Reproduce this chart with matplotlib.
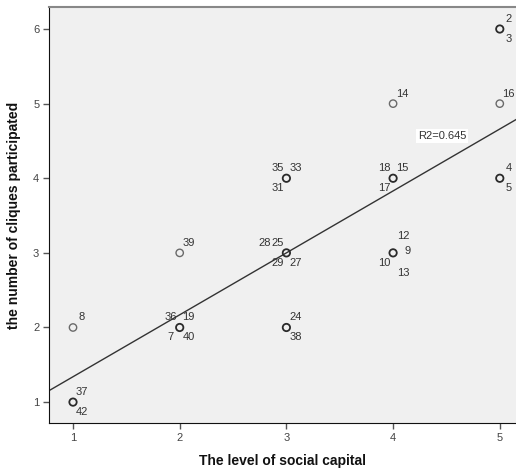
import matplotlib
matplotlib.use("Agg")
import matplotlib.pyplot as plt
import numpy as np
from collections import Counter

# ---- data ----
case_ids = [2, 3, 16, 4, 5, 14, 18, 15, 17, 12, 9, 10, 13,
            35, 33, 31, 28, 25, 29, 27, 24, 38, 39, 36, 19, 7, 40, 8, 37, 42]
social_capital = [5, 5, 5, 5, 5, 4, 4, 4, 4, 4, 4, 4, 4,
                  3, 3, 3, 3, 3, 3, 3, 3, 3, 2, 2, 2, 2, 2, 1, 1, 1]
cliques = [6, 6, 5, 4, 4, 5, 4, 4, 4, 3, 3, 3, 3,
           4, 4, 4, 3, 3, 3, 3, 2, 2, 3, 2, 2, 2, 2, 2, 1, 1]
fit_intercept = 0.51
fit_slope = 0.83
r2_text = "R2=0.645"
x_ticks = [1, 2, 3, 4, 5]
y_ticks = [1, 2, 3, 4, 5, 6]

# label placement slot per case (style)
label_slot = {2: 'tr', 3: 'br', 16: 'tr', 4: 'tr', 5: 'br', 14: 'tr',
              18: 'tl', 15: 'tr', 17: 'bl', 12: 'tr2', 9: 'r', 10: 'bl', 13: 'br2',
              35: 'tl', 33: 'tr', 31: 'bl', 28: 'tl2', 25: 'tl', 29: 'bl', 27: 'br',
              24: 'tr', 38: 'br', 39: 'tr', 36: 'tl', 19: 'tr', 7: 'bl', 40: 'br',
              8: 'tr', 37: 'tr', 42: 'br'}
slot_offsets = {'tr': (9, 10), 'br': (9, -10), 'tl': (-9, 10), 'bl': (-9, -10),
                'r': (14, 2), 'tr2': (10, 17), 'br2': (10, -20), 'tl2': (-22, 10)}

fig = plt.figure(figsize=(5.16, 4.69), dpi=100)
ax = fig.add_axes([49 / 516, 46 / 469, 1 - 49 / 516, (423 - 7) / 469])
ax.set_facecolor('#f0f0f0')

xlim = (0.775, 5.152)
ax.set_xlim(*xlim)
ax.set_ylim(0.72, 6.295)

# fit line
xs = np.array(xlim)
ax.plot(xs, fit_intercept + fit_slope * xs, color='#333333', lw=1.0, zorder=2)

# points: darker/thicker where several cases overlap
counts = Counter(zip(social_capital, cliques))
for (x, y), c in counts.items():
    col = '#6a6a6a' if c == 1 else '#2a2a2a'
    lw = 1.0 if c == 1 else 1.3
    ax.scatter([x], [y], s=28, facecolors='none', edgecolors=col,
               linewidths=lw, zorder=3)

for cid, x, y in zip(case_ids, social_capital, cliques):
    dx, dy = slot_offsets[label_slot[cid]]
    ax.annotate(str(cid), (x, y), xytext=(dx, dy), textcoords='offset pixels',
                ha='center', va='center', fontsize=8, color='#333333',
                family='Liberation Sans', zorder=4)

ax.text(4.46, 4.57, r2_text, ha='center', va='center', fontsize=8,
        color='#333333', family='Liberation Sans', zorder=4,
        bbox=dict(facecolor='white', edgecolor='none', pad=1.5))

ax.set_xticks(x_ticks)
ax.set_yticks(y_ticks)
ax.tick_params(axis='both', direction='out', length=4, width=1, color='#555555',
               labelsize=8, labelcolor='#444444', pad=3)
for lab in ax.get_xticklabels() + ax.get_yticklabels():
    lab.set_family('Liberation Sans')

ax.spines['right'].set_visible(False)
ax.spines['top'].set_color('#888888')
ax.spines['top'].set_linewidth(1.5)
ax.spines['left'].set_color('#111111')
ax.spines['bottom'].set_color('#111111')

ax.set_xlabel('The level of social capital', fontsize=10, fontweight='bold',
              family='Liberation Sans', labelpad=8, color='#111111')
ax.set_ylabel('the number of cliques participated', fontsize=10, fontweight='bold',
              family='Liberation Sans', labelpad=9, color='#111111')

fig.savefig('out.png', dpi=100, facecolor='white')
